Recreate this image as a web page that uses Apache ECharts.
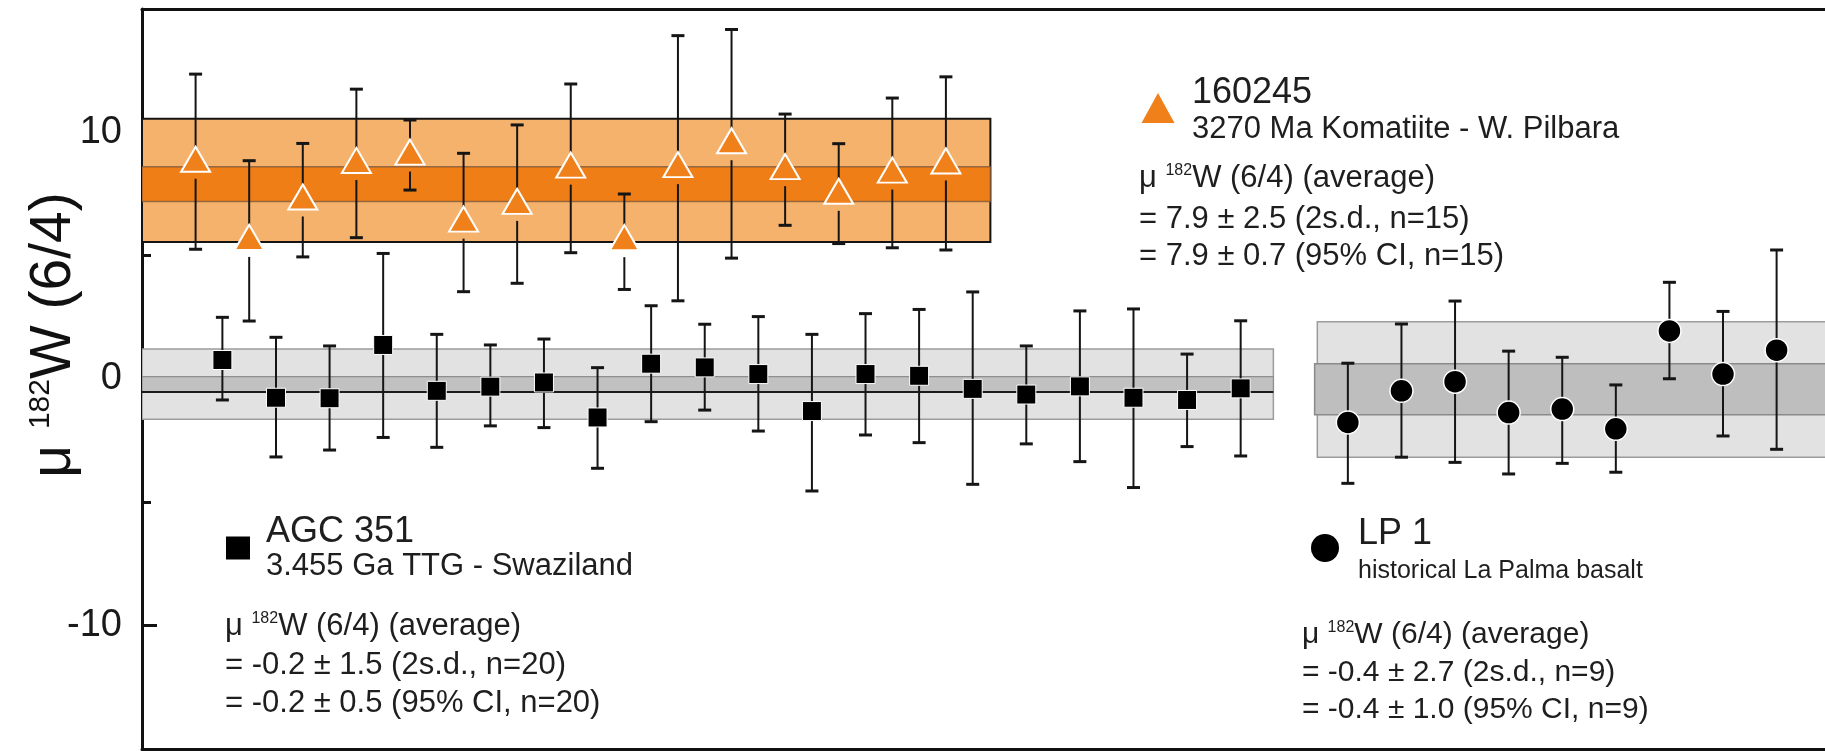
<!DOCTYPE html>
<html><head><meta charset="utf-8">
<script src="https://cdn.jsdelivr.net/npm/echarts@6/dist/echarts.min.js"></script>
<style>html,body{margin:0;padding:0;background:#fff}#c{width:1825px;height:751px}</style>
</head><body><div id="c"></div>
<script>
// ---------- data (x in sample-slot units, y in µ182W units) ----------
const triX   = [-0.5,0.5,1.5,2.5,3.5,4.5,5.5,6.5,7.5,8.5,9.5,10.5,11.5,12.5,13.5];
const triVal = [8.91,5.74,7.38,8.86,9.20,6.48,7.20,8.67,5.73,8.69,9.66,8.61,7.61,8.47,8.84];
const triLo  = [5.26,2.35,4.95,5.73,7.66,3.54,3.88,5.12,3.63,3.17,4.90,6.23,5.49,5.32,5.23];
const triHi  = [12.36,8.85,9.55,11.75,10.50,9.15,10.30,11.96,7.50,13.92,14.17,10.74,9.54,11.39,12.25];

const sqX   = [0,1,2,3,4,5,6,7,8,9,10,11,12,13,14,15,16,17,18,19];
const sqVal = [0.77,-0.76,-0.78,1.38,-0.48,-0.31,-0.14,-1.56,0.62,0.47,0.20,-1.30,0.20,0.13,-0.40,-0.63,-0.30,-0.76,-0.85,-0.38];
const sqLo  = [-0.85,-3.16,-2.88,-2.37,-2.77,-1.90,-1.97,-3.62,-1.73,-1.26,-2.11,-4.54,-2.27,-2.58,-4.27,-2.63,-3.35,-4.40,-2.74,-3.12];
const sqHi  = [2.50,1.69,1.34,5.09,1.81,1.38,1.62,0.46,2.97,2.22,2.53,1.81,2.65,2.82,3.53,1.34,2.76,2.84,1.01,2.36];

const cirX   = [21,22,23,24,25,26,27,28,29];
const cirVal = [-1.76,-0.48,-0.11,-1.36,-1.22,-2.02,1.95,0.20,1.17];
const cirLo  = [-4.23,-3.17,-3.38,-3.85,-3.42,-3.78,0.01,-2.31,-2.85];
const cirHi  = [0.64,2.23,3.16,1.13,0.88,-0.24,3.92,2.74,5.23];

// bands: [x0, x1, yLow, yHigh]
const orangeOuter = [-1.5, 14.33, 5.55, 10.55];
const orangeInner = [-1.5, 14.33, 7.20, 8.60];
const agcOuter    = [-1.5, 19.61, -1.63, 1.22];
const agcInner    = [-1.5, 19.61, -0.53, 0.10];
const agcMean     = [-1.5, 19.61, -0.53];
const lpOuter     = [20.43, 30.5, -3.17, 2.32];
const lpInner     = [20.38, 30.5, -1.45, 0.62];

const yMajorTicks = [-10, 0, 10];
const yMinorTicks = [-5, 5];

const yTitle = ['μ ', '182', 'W (6/4)'];
const triName = '160245', triDesc = '3270 Ma Komatiite - W. Pilbara';
const triStats = ['= 7.9 ± 2.5 (2s.d., n=15)', '= 7.9 ± 0.7 (95% CI, n=15)'];
const sqName = 'AGC 351', sqDesc = '3.455 Ga TTG - Swaziland';
const sqStats = ['= -0.2 ± 1.5 (2s.d., n=20)', '= -0.2 ± 0.5 (95% CI, n=20)'];
const cirName = 'LP 1', cirDesc = 'historical La Palma basalt';
const cirStats = ['= -0.4 ± 2.7 (2s.d., n=9)', '= -0.4 ± 1.0 (95% CI, n=9)'];

// ---------- chart ----------
const FONT = '"Liberation Sans", Arial, Helvetica, sans-serif';
const chart = echarts.init(document.getElementById('c'), null, {renderer: 'canvas'});

function bandSeries(row, fill, stroke, lw, z) {
  return {
    type: 'custom', z: z, silent: true, clip: true,
    data: [row],
    renderItem: function (params, api) {
      const p0 = api.coord([api.value(0), api.value(3)]);
      const p1 = api.coord([api.value(1), api.value(2)]);
      return {type: 'rect',
        shape: {x: p0[0], y: p0[1], width: p1[0] - p0[0], height: p1[1] - p0[1]},
        style: {fill: fill, stroke: stroke, lineWidth: lw}};
    }
  };
}
function lineSeries(row, color, lw, z) {
  return {
    type: 'custom', z: z, silent: true, clip: true,
    data: [row],
    renderItem: function (params, api) {
      const p0 = api.coord([api.value(0), api.value(2)]);
      const p1 = api.coord([api.value(1), api.value(2)]);
      return {type: 'line', shape: {x1: p0[0], y1: p0[1], x2: p1[0], y2: p1[1]},
        style: {stroke: color, lineWidth: lw}};
    }
  };
}
function errSeries(xs, vals, los, his, gapBelow, z) {
  return {
    type: 'custom', z: z, silent: true,
    data: xs.map((x, i) => [x, vals[i], los[i], his[i]]),
    renderItem: function (params, api) {
      const x = api.value(0);
      const pv = api.coord([x, api.value(1)]);
      const plo = api.coord([x, api.value(2)]);
      const phi = api.coord([x, api.value(3)]);
      const cw = 6.5;
      const st = {stroke: '#151515', lineWidth: 2};
      const capSt = {stroke: '#151515', lineWidth: 3};
      const ch = [];
      ch.push({type: 'line', shape: {x1: pv[0], y1: phi[1], x2: pv[0], y2: pv[1]}, style: st});
      const startLow = pv[1] + gapBelow;
      if (plo[1] > startLow) ch.push({type: 'line', shape: {x1: pv[0], y1: startLow, x2: pv[0], y2: plo[1]}, style: st});
      ch.push({type: 'line', shape: {x1: pv[0] - cw, y1: phi[1], x2: pv[0] + cw, y2: phi[1]}, style: capSt});
      ch.push({type: 'line', shape: {x1: pv[0] - cw, y1: plo[1], x2: pv[0] + cw, y2: plo[1]}, style: capSt});
      return {type: 'group', children: ch};
    }
  };
}

function txt(x, y, text, size) {
  return {type: 'text', x: x, y: y, z: 100, silent: true,
    style: {text: text, fontSize: size, fontFamily: FONT, fill: '#1e1e1e', align: 'left', verticalAlign: 'middle'}};
}
function muLine(x, y, size) {
  return {type: 'text', x: x, y: y, z: 100, silent: true,
    style: {text: '{m|' + yTitle[0] + '}{s|' + yTitle[1] + '}{m|' + yTitle[2] + ' (average)}',
      fontFamily: FONT, fill: '#1e1e1e', align: 'left', verticalAlign: 'middle',
      rich: {m: {fontSize: size, fontFamily: FONT, fill: '#1e1e1e'},
             s: {fontSize: Math.round(size * 0.52), fontFamily: FONT, fill: '#1e1e1e', verticalAlign: 'top'}}}};
}

const graphics = [
  // y-axis title
  {type: 'text', x: 54, y: 335, rotation: Math.PI / 2, z: 100, silent: true,
   style: {text: '{m|' + yTitle[0] + '}{s|' + yTitle[1] + '}{m|' + yTitle[2] + '}',
     fontFamily: FONT, fill: '#111', align: 'center', verticalAlign: 'middle',
     rich: {m: {fontSize: 57, fontFamily: FONT, fill: '#111'},
            s: {fontSize: 30, fontFamily: FONT, fill: '#111', verticalAlign: 'top'}}}},
  // triangle legend block
  {type: 'polygon', z: 100, silent: true, shape: {points: [[1141.5, 123], [1174.5, 123], [1158, 93]]}, style: {fill: '#F08019'}},
  txt(1192, 93, triName, 36),
  txt(1192, 129, triDesc, 31),
  muLine(1139, 178, 31),
  txt(1139, 219, triStats[0], 31),
  txt(1139, 256, triStats[1], 31),
  // square legend block
  {type: 'rect', z: 100, silent: true, shape: {x: 226, y: 536.5, width: 24, height: 23}, style: {fill: '#000'}},
  txt(266, 532, sqName, 36),
  txt(266, 566, sqDesc, 31),
  muLine(225, 626, 31),
  txt(225, 665, sqStats[0], 31),
  txt(225, 703, sqStats[1], 31),
  // circle legend block
  {type: 'circle', z: 100, silent: true, shape: {cx: 1325, cy: 548, r: 14}, style: {fill: '#000'}},
  txt(1358, 534, cirName, 36),
  txt(1358, 571, cirDesc, 25),
  muLine(1302, 635, 30),
  txt(1302, 673, cirStats[0], 30),
  txt(1302, 710, cirStats[1], 30)
];

const frameX = {type: 'value', min: -1.5, max: 30.5,
  axisLine: {show: true, onZero: false, lineStyle: {color: '#111', width: 3}},
  axisTick: {show: false}, axisLabel: {show: false}, splitLine: {show: false}};

const option = {
  animation: false,
  backgroundColor: '#fff',
  grid: {left: 142, top: 9, right: -32, bottom: 2, outerBoundsMode: 'none', containLabel: false, show: false},
  xAxis: [Object.assign({position: 'bottom'}, frameX), Object.assign({position: 'top'}, frameX)],
  yAxis: [
    {type: 'value', min: -15, max: 15, interval: 5,
     axisLine: {show: true, onZero: false, lineStyle: {color: '#111', width: 3}},
     axisTick: {show: true, inside: true, length: 15, customValues: yMajorTicks, lineStyle: {color: '#111', width: 3}},
     axisLabel: {show: true, customValues: yMajorTicks, margin: 20, fontSize: 38, fontFamily: FONT, color: '#1a1a1a'},
     splitLine: {show: false}},
    {type: 'value', min: -15, max: 15, interval: 5, position: 'left', offset: 0,
     axisLine: {show: false, onZero: false},
     axisTick: {show: true, inside: true, length: 9, customValues: yMinorTicks, lineStyle: {color: '#111', width: 3}},
     axisLabel: {show: false}, splitLine: {show: false}}
  ],
  graphic: graphics,
  series: [
    bandSeries(orangeOuter, '#F5B26C', '#141414', 2, 1),
    bandSeries(orangeInner, '#EF7E17', 'rgba(120,85,60,0.75)', 1.5, 2),
    bandSeries(agcOuter, '#E2E2E2', '#9C9C9C', 1.5, 1),
    bandSeries(agcInner, '#C1C1C1', '#8E8E8E', 1.2, 2),
    lineSeries(agcMean, '#1a1a1a', 2, 3),
    bandSeries(lpOuter, '#E2E2E2', '#9C9C9C', 1.5, 1),
    bandSeries(lpInner, '#BEBEBE', '#8A8A8A', 1.5, 2),
    errSeries(triX, triVal, triLo, triHi, 19.5, 5),
    errSeries(sqX, sqVal, sqLo, sqHi, 0, 5),
    errSeries(cirX, cirVal, cirLo, cirHi, 0, 5),
    {type: 'scatter', z: 10, symbol: 'triangle', symbolSize: [29, 25],
     data: triX.map((x, i) => [x, triVal[i]]),
     itemStyle: {color: '#F08019', borderColor: '#ffffff', borderWidth: 2, opacity: 1}},
    {type: 'scatter', z: 10, symbol: 'rect', symbolSize: 19,
     data: sqX.map((x, i) => [x, sqVal[i]]),
     itemStyle: {color: '#000', borderColor: '#ffffff', borderWidth: 1, opacity: 1}},
    {type: 'scatter', z: 10, symbol: 'circle', symbolSize: 23,
     data: cirX.map((x, i) => [x, cirVal[i]]),
     itemStyle: {color: '#000', borderColor: '#ffffff', borderWidth: 1.5, opacity: 1}}
  ]
};
chart.setOption(option);
</script>
</body></html>
